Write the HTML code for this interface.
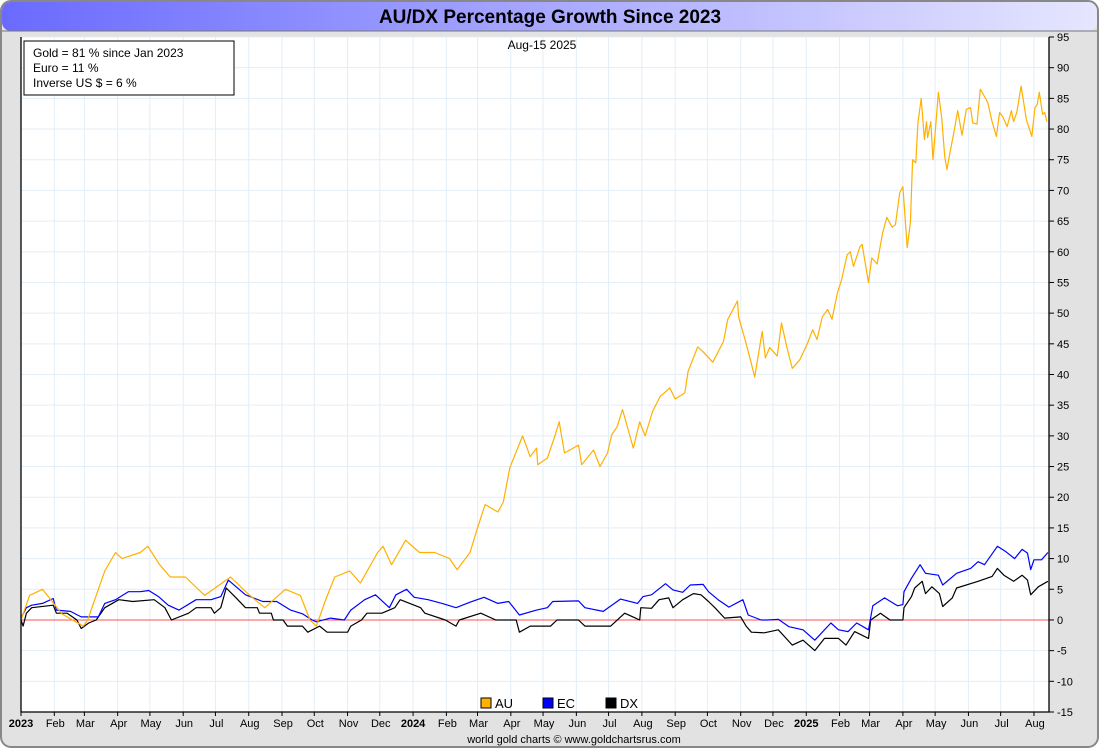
<!DOCTYPE html>
<html><head><meta charset="utf-8"><style>
body{margin:0;width:1100px;height:750px;overflow:hidden;background:#fff;font-family:"Liberation Sans",sans-serif}
</style></head><body>
<svg id="chart" width="1100" height="750" xmlns="http://www.w3.org/2000/svg" font-family="Liberation Sans, sans-serif">
<defs><linearGradient id="tg" x1="0" x2="1"><stop offset="0" stop-color="#6a6aff"/><stop offset="1" stop-color="#e6e6ff"/></linearGradient></defs>
<rect x="1" y="1" width="1097" height="746" rx="10" fill="#e2e2e2" stroke="#888" stroke-width="2"/>
<rect x="2" y="2" width="1095" height="29" rx="9" fill="url(#tg)"/>
<line x1="2" y1="31" x2="1097" y2="31" stroke="#777"/>
<text x="550" y="23" font-size="19" font-weight="bold" text-anchor="middle" fill="#000">AU/DX Percentage Growth Since 2023</text>
<rect x="21" y="37" width="1028" height="675" fill="#fff"/>
<g id="grid"></g>
<g id="series"></g>
<g id="axes"></g>
<rect x="24" y="41" width="210" height="54" fill="#fff" stroke="#000"/>
<text x="33" y="57" font-size="12">Gold = 81 % since Jan 2023</text>
<text x="33" y="72" font-size="12">Euro = 11 %</text>
<text x="33" y="87" font-size="12">Inverse US $ = 6 %</text>
<text x="542" y="49" font-size="12" text-anchor="middle">Aug-15  2025</text>
<g font-size="13">
<rect x="481" y="698" width="10" height="10" fill="#ffb300" stroke="#000"/><text x="495" y="708">AU</text>
<rect x="543" y="698" width="10" height="10" fill="#0000ff" stroke="#000"/><text x="557" y="708">EC</text>
<rect x="606" y="698" width="10" height="10" fill="#000" stroke="#000"/><text x="620" y="708">DX</text>
</g>
<text x="574" y="743" font-size="11" text-anchor="middle">world gold charts © www.goldchartsrus.com</text>
</svg>
<script>
const yTicks=[95,90,85,80,75,70,65,60,55,50,45,40,35,30,25,20,15,10,5,0,-5,-10,-15];
const monthLabels=["2023","Feb","Mar","Apr","May","Jun","Jul","Aug","Sep","Oct","Nov","Dec","2024","Feb","Mar","Apr","May","Jun","Jul","Aug","Sep","Oct","Nov","Dec","2025","Feb","Mar","Apr","May","Jun","Jul","Aug"];
const monthDays=[0,31,59,90,120,151,181,212,243,273,304,334,365,396,425,456,486,517,547,578,609,639,670,700,731,762,790,821,851,882,912,943];
const auDays=[0,8,20,29,38,58,62,70,78,88,94,111,118,129,139,153,171,187,195,213,227,246,260,269,275,283,292,306,316,332,337,345,358,371,385,399,406,418,425,432,444,449,455,467,474,480,481,490,497,501,506,519,522,533,539,546,550,555,560,570,576,581,588,595,604,609,618,621,630,635,644,654,658,667,668,674,679,683,690,693,697,704,708,713,718,725,732,737,741,746,751,755,760,764,769,772,775,781,783,789,792,797,802,806,811,814,818,821,825,828,830,833,835,838,841,843,844,847,849,854,857,860,862,864,869,872,876,880,884,886,890,893,897,900,904,908,911,914,918,922,924,927,931,936,941,944,946,948,951,953,955];
const auVals=[0,4,5,3,1,-1,0,4,8,11,10,11,12,9,7,7,4,6,7,4,2,5,4,0,-1,3,7,8,6,11,12,9,13,11,11,10,8.2,11,15,18.8,17.6,19.2,24.8,30,26.6,28,25.3,26.4,30,32.3,27.2,28.5,25.3,27.7,25,27.2,30.2,31.5,34.3,28,32.3,30,34,36.4,37.8,36,37,40.5,44.5,43.7,42,45.4,49,52,49.4,45.7,42.4,39.6,47,42.7,44.4,43,48.4,44.4,41,42.4,45,47.3,45.7,49.4,50.6,49,53.3,55.5,59.5,60,57.6,60.8,61.2,55,59,58,63,65.6,64,64.4,69.6,70.6,60.7,64.8,75,74.5,81,85,78.3,81.2,78.6,81.2,75,86,82,75.4,73.4,75.4,80,83,79,83.2,83.5,81,80.8,86.5,85.3,84.3,81.2,78.8,82.7,82,80.4,83,81.2,82.7,87,81.5,78.8,83.5,84,86,82.4,82.7,81.2];
const ecDays=[0,5,10,20,30,33,46,56,65,72,78,88,100,111,119,128,137,147,163,177,186,193,209,225,238,251,262,271,275,288,301,307,320,330,343,349,359,366,379,392,405,418,431,444,454,464,480,490,495,519,525,542,558,574,579,587,600,607,616,623,635,640,649,659,672,677,689,695,705,715,728,739,754,761,770,778,789,793,804,816,821,822,829,837,842,854,858,871,884,891,897,909,917,925,932,937,940,943,950,956];
const ecVals=[0.3,2,2.4,2.7,3.5,1.6,1.4,0.5,0.5,0.5,2.7,3.3,4.6,4.6,4.8,3.8,2.4,1.6,3.3,3.3,3.8,6.5,4.1,3,3,1.6,1,0,-0.3,0.3,0,1.6,3.3,4.1,2,4.1,5,3.7,3.3,2.7,2,2.9,3.7,2.7,3,0.8,1.6,2,3,3.1,2,1.4,3.4,2.7,3.8,4.1,5.9,4.9,4.5,5.7,5.8,4.6,3.3,2.1,3.3,0.8,0,0,0.1,-1.1,-1.6,-3.3,-0.5,-1.6,-1.9,-0.5,-1.6,2.3,3.6,2.3,2.5,4.6,6.8,9,7.6,7.3,5.7,7.6,8.4,9.5,9,12,11.1,10,11.5,10.9,8.2,9.8,9.8,11];
const dxDays=[0,2,5,10,30,33,43,52,56,63,70,78,91,104,124,134,140,156,163,177,180,186,191,199,209,220,222,233,235,244,248,262,267,278,285,304,307,317,322,336,348,353,372,376,395,405,408,428,442,461,464,474,483,493,499,519,525,549,555,562,576,577,587,594,603,607,616,626,633,640,646,655,670,675,680,692,705,718,728,739,748,761,768,776,789,791,800,809,821,822,829,832,839,842,848,855,858,867,871,891,904,909,915,924,932,937,940,947,956];
const dxVals=[0,-1,1.1,2,2.4,1.1,1.1,0,-1.4,-0.5,0,2,3.3,3,3.3,2,0,1.1,2,2,1.1,2,5.2,3.8,2,2,1.1,1.1,0,0,-1,-1,-2,-1,-2,-2,-1,0,1.1,1.1,2,3.3,2,1.1,0,-1,0,1.1,0,0,-2,-1,-1,-1,0,0,-1,-1,0,1.1,0,2,1.9,3.3,3.6,2,3.3,4.3,4.1,3,2,0.3,0.5,-1,-2,-2.1,-1.6,-4.1,-3.3,-5,-3,-3,-4.1,-1.9,-3,0,1.1,0,0,2,3.8,5.2,6.3,4.3,5.4,4.3,2.2,3.6,5.2,6.3,7.1,8.4,7.3,6.3,7.3,6.5,4.1,5.4,6.3];

const X0=21,X1=1049,Y0=37,Y1=712,DMAX=957,VMAX=95,VMIN=-15;
const xs=d=>X0+d*(X1-X0)/DMAX;
const ys=v=>Y0+(VMAX-v)*(Y1-Y0)/(VMAX-VMIN);
const NS="http://www.w3.org/2000/svg";
function mk(tag,parent,attrs){const e=document.createElementNS(NS,tag);for(const k in attrs)e.setAttribute(k,attrs[k]);parent.appendChild(e);return e;}
const grid=document.getElementById('grid'),axes=document.getElementById('axes'),series=document.getElementById('series');
yTicks.forEach(v=>{
  const l=mk('line',grid,{x1:X0,x2:X1,y1:ys(v),y2:ys(v),stroke:'#e3eef7'});
  
  
  mk('line',axes,{x1:X1,x2:X1+5,y1:ys(v),y2:ys(v),stroke:'#000'});
  const t=mk('text',axes,{x:X1+8,y:ys(v)+4,'font-size':11});
  
  
  t.textContent=v;
});
monthDays.forEach((d,i)=>{
  const l=mk('line',grid,{x1:xs(d),x2:xs(d),y1:Y0,y2:Y1,stroke:'#e3eef7'});
  
  
  mk('line',axes,{x1:xs(d),x2:xs(d),y1:Y1,y2:Y1+4,stroke:'#000'});
  const lab=monthLabels[i];const bold=/^\d{4}$/.test(lab);
  const t=mk('text',axes,{x:xs(d)+(bold?0:1),y:Y1+15,'font-size':11,'text-anchor':'middle','font-weight':bold?'bold':'normal'});
  
  
  t.textContent=lab;
});
const zl=mk('line',series,{x1:X0,x2:X1,y1:ys(0),y2:ys(0),stroke:'#ff5050'});


function line(days,vals,color,name){
  const p=mk('polyline',series,{points:days.map((d,i)=>xs(d).toFixed(1)+','+ys(vals[i]).toFixed(1)).join(' '),fill:'none',stroke:color,'stroke-width':1.2,'stroke-linejoin':'round'});
  
  
}
line(dxDays,dxVals,'#000','dx-line');
line(ecDays,ecVals,'#0000ff','ec-line');
line(auDays,auVals,'#ffb000','au-line');
mk('polyline',axes,{points:`${X0},${Y0} ${X0},${Y1} ${X1},${Y1} ${X1},${Y0}`,fill:'none',stroke:'#000','stroke-width':1.3});
</script>
</body></html>
